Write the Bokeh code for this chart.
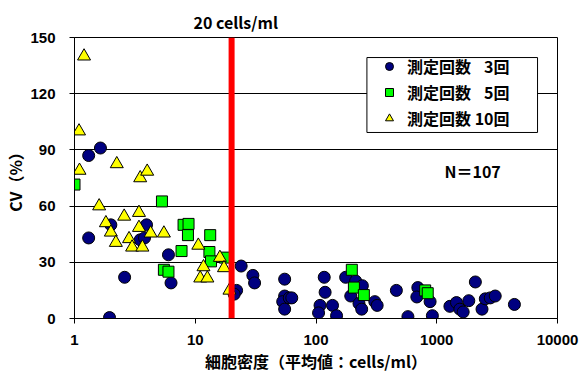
import math
from bokeh.plotting import figure
from bokeh.models import (Range1d, FixedTicker, NumeralTickFormatter, Span, Label,
                          Legend, LegendItem, BoxAnnotation)
from bokeh.embed import file_html
from bokeh.resources import INLINE

# ---- data (cell density [cells/ml], CV [%]) ----
n3_density = [1.31, 1.64, 1.31, 2.0, 2.6, 1.95, 3.95, 3.5, 3.8, 6.0, 6.3, 24, 22, 21, 30, 31,
              55, 55, 53, 55, 60, 63, 117, 119, 108, 105, 137, 148, 176, 213, 242, 194, 227,
              239, 307, 321, 463, 577, 697, 684, 881, 920, 1285, 1457, 1553, 1655, 1842, 2088,
              2370, 2524, 2775, 3049, 4397]
n3_cv = [87, 91, 43, 50, 22, 0.5, 50, 42, 43, 34, 19, 28, 15, 13, 23, 19,
         21, 12, 9, 5, 11, 11, 22, 14, 7, 3, 7, 1.5, 22, 20, 17.5, 12, 8,
         5, 9, 7, 15, 1, 16.5, 11.5, 9, 1.5, 6.5, 8.5, 5, 3.5, 9.5, 19.5,
         5, 10.5, 11, 12, 7.5]

n5_density = [1.0, 5.3, 8.0, 8.8, 8.7, 13.3, 7.7, 13.1, 13.5, 17.6, 5.5, 6.0, 198, 206, 249, 802, 842]
n5_cv = [71.5, 62.5, 50, 50.5, 44.5, 44.5, 36, 35.5, 30.5, 32.5, 26, 25, 26, 16.5, 12.5, 15, 13.5]

n10_density = [1.2, 1.09, 1.1, 2.24, 3.5, 4.0, 1.6, 1.82, 2.0, 2.2, 2.58, 2.83, 3.0, 3.42, 3.42,
               3.65, 4.27, 5.5, 10.6, 11.7, 11.0, 12.6, 16.0, 17.3, 19.2]
n10_cv = [140, 100, 79, 82.5, 75, 78.5, 60, 51, 46, 40.5, 54.5, 42.5, 38, 56.5, 48.5,
          38, 45.5, 45.5, 39, 27.5, 21.5, 21.5, 32.5, 27, 15]

series_labels = ["測定回数 \u20073回", "測定回数 \u20075回", "測定回数 10回"]
x_ticks = [1, 10, 100, 1000, 10000]
y_ticks = [0, 30, 60, 90, 120, 150]
threshold = 20
threshold_label = "20 cells/ml"
n_label = "N＝107"
x_title = "細胞密度（平均値：cells/ml）"
y_title = "CV（%）"

FONT = "Noto Sans CJK JP"
NUM_FONT = "Liberation Sans"
TXT = "16px"

p = figure(width=581, height=376, x_axis_type="log",
           x_range=Range1d(1, 10000), y_range=Range1d(0, 150),
           output_backend="svg", toolbar_location=None,
           min_border_left=73, min_border_right=24, min_border_top=37, min_border_bottom=58)
p.background_fill_color = "white"
p.border_fill_color = "white"
p.outline_line_color = "black"
p.outline_line_width = 1

# title used as the "20 cells/ml" label above the red line
p.title.text = threshold_label
p.title.align = "left"
p.title.offset = 119
p.title.standoff = 8
p.title.text_font = FONT
p.title.text_font_style = "bold"
p.title.text_font_size = TXT
p.title.text_color = "black"

# axes
p.xaxis.ticker = FixedTicker(ticks=x_ticks)
p.xaxis.formatter = NumeralTickFormatter(format="0")
p.yaxis.ticker = FixedTicker(ticks=y_ticks)
for ax in (p.xaxis, p.yaxis):
    ax.axis_line_color = "black"
    ax.major_tick_line_color = "black"
    ax.major_tick_out = 5
    ax.major_tick_in = 0
    ax.minor_tick_line_color = None
    ax.major_label_text_font = NUM_FONT
    ax.major_label_text_font_style = "bold"
    ax.major_label_text_font_size = "15px"
    ax.major_label_text_color = "black"
    ax.axis_label_text_font = FONT
    ax.axis_label_text_font_style = "bold"
    ax.axis_label_text_font_size = TXT
    ax.axis_label_text_color = "black"
p.xaxis.major_label_standoff = 11
p.yaxis.major_label_standoff = 14
p.xaxis.axis_label = x_title
p.yaxis.axis_label = y_title
p.xaxis.axis_label_standoff = 1
p.yaxis.axis_label_standoff = 0

p.xgrid.grid_line_color = None
p.ygrid.grid_line_color = "black"
p.ygrid.grid_line_width = 1
p.ygrid.ticker = FixedTicker(ticks=y_ticks)

r3 = p.scatter(n3_density, n3_cv, marker="circle", size=12, fill_color="#000080",
               line_color="black", line_width=1)
r5 = p.scatter(n5_density, n5_cv, marker="square", size=11, fill_color="#00FF00",
               line_color="black", line_width=1)
r10 = p.scatter(n10_density, n10_cv, marker="triangle", size=13, fill_color="#FFFF00",
                line_color="black", line_width=1)

p.add_layout(Span(location=threshold, dimension="height", line_color="#FF0000", line_width=6))

p.add_layout(Label(x=1982, y=79, text=n_label, text_align="center", text_baseline="middle",
                   text_font=FONT, text_font_style="bold", text_font_size=TXT,
                   text_color="black"))

# legend frame (white box with black border, covering the gridline behind it)
p.add_layout(BoxAnnotation(left=264, right=6834, top=139.3, bottom=99.3,
                           fill_color="white", fill_alpha=1,
                           line_color="black", line_width=1, line_alpha=1))

legend = Legend(items=[LegendItem(label=series_labels[0], renderers=[r3]),
                       LegendItem(label=series_labels[1], renderers=[r5]),
                       LegendItem(label=series_labels[2], renderers=[r10])],
                location=(297, 188), orientation="vertical",
                glyph_width=36, glyph_height=20, label_standoff=0,
                label_height=20, spacing=2, padding=4, margin=0,
                border_line_color=None, background_fill_alpha=0,
                label_text_font=FONT, label_text_font_style="bold",
                label_text_font_size=TXT, label_text_color="black")
p.add_layout(legend)

open("out.html", "w").write(file_html(p, INLINE))
